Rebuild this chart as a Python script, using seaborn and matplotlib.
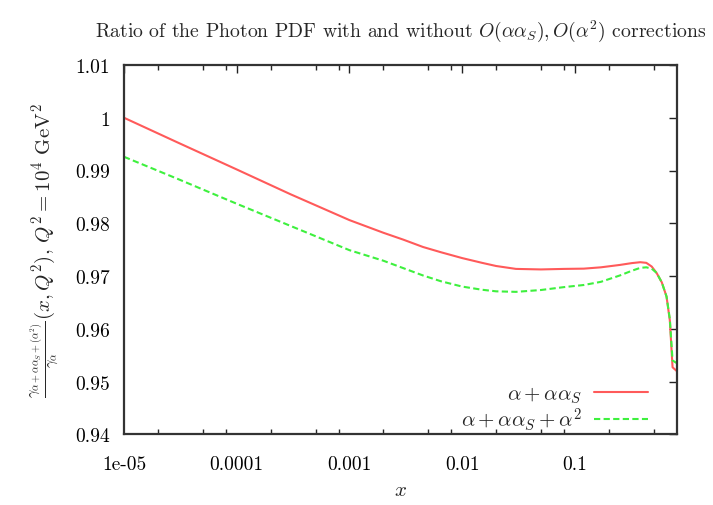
import numpy as np
import pandas as pd
import matplotlib
matplotlib.use("Agg")
import matplotlib.pyplot as plt
import seaborn as sns

# Momentum fraction x and photon PDF ratios at Q^2 = 10^4 GeV^2
x_vals = [1e-5, 3e-5, 1e-4, 3e-4, 1e-3, 2e-3, 3e-3, 4.5e-3, 6.5e-3, 1e-2,
          1.5e-2, 2e-2, 3e-2, 5e-2, 8e-2, 0.12, 0.17, 0.25, 0.32, 0.38,
          0.43, 0.48, 0.53, 0.59, 0.65, 0.695, 0.735, 0.8]
ratio_as = [1.0000, 0.9953, 0.9902, 0.9855, 0.9806, 0.9782, 0.9769, 0.9755,
            0.9745, 0.9734, 0.9725, 0.9719, 0.97135, 0.97125, 0.97135, 0.9714,
            0.97165, 0.9721, 0.97245, 0.97262, 0.9725, 0.9718, 0.9706, 0.9688,
            0.9661, 0.9616, 0.9527, 0.9520]
ratio_as_a2 = [0.9926, 0.9884, 0.9837, 0.9795, 0.9749, 0.9729, 0.9715, 0.9701,
               0.9690, 0.9680, 0.9674, 0.9671, 0.9670, 0.96735, 0.9679, 0.9683,
               0.9689, 0.9701, 0.9710, 0.97155, 0.97165, 0.9714, 0.9706, 0.9688,
               0.9661, 0.9619, 0.9540, 0.9535]

series_labels = [r"$\alpha+\alpha\alpha_S$", r"$\alpha+\alpha\alpha_S+\alpha^2$"]
x_ticks = [1e-5, 1e-4, 1e-3, 1e-2, 1e-1]
x_ticklabels = ["1e-05", "0.0001", "0.001", "0.01", "0.1"]
x_minor = [2e-5, 5e-5, 8e-5, 2e-4, 5e-4, 8e-4, 2e-3, 5e-3, 8e-3,
           2e-2, 5e-2, 8e-2, 0.2, 0.5]
y_ticks = [0.94, 0.95, 0.96, 0.97, 0.98, 0.99, 1.00, 1.01]
y_ticklabels = ["0.94", "0.95", "0.96", "0.97", "0.98", "0.99", "1", "1.01"]

df = pd.DataFrame({
    "x": x_vals * 2,
    "ratio": ratio_as + ratio_as_a2,
    "order": [series_labels[0]] * len(x_vals) + [series_labels[1]] * len(x_vals),
})

sns.set_style("white")
plt.rcParams["font.family"] = ["cmr10", "DejaVu Serif"]
plt.rcParams["mathtext.fontset"] = "cm"
plt.rcParams["axes.unicode_minus"] = False

fig = plt.figure(figsize=(7.13, 5.06), dpi=100)
ax = fig.add_axes([0.1739, 0.1397, 0.9491 - 0.1739, 0.8696 - 0.1397])

palette = {series_labels[0]: "#ff5a5a", series_labels[1]: "#3ef03e"}
sns.lineplot(data=df, x="x", y="ratio", hue="order", style="order",
             palette=palette, dashes={series_labels[0]: "", series_labels[1]: (3, 1.6)},
             linewidth=1.5, ax=ax, legend=True)

ax.set_xscale("log")
ax.set_xlim(1e-5, 0.8)
ax.set_ylim(0.94, 1.01)
ax.set_xticks(x_ticks)
ax.set_xticklabels(x_ticklabels)
ax.set_xticks(x_minor, minor=True)
ax.set_xticklabels([], minor=True)
ax.set_yticks(y_ticks)
ax.set_yticklabels(y_ticklabels)

ax.tick_params(axis="both", which="major", direction="in", length=6, width=1.0,
               top=True, right=True, labelsize=14, colors="#222222",
               labelcolor="black")
ax.tick_params(axis="y", which="major", pad=10)
ax.tick_params(axis="x", which="major", pad=15)
ax.tick_params(axis="x", which="minor", direction="in", length=3.5, width=1.0,
               top=True, bottom=True)
for sp in ax.spines.values():
    sp.set_color("#333333")
    sp.set_linewidth(1.6)

ax.set_title(r"Ratio of the Photon PDF with and without $O(\alpha\alpha_S), O(\alpha^2)$ corrections",
             fontsize=14.2, pad=21)
ax.set_xlabel(r"$x$", fontsize=15, labelpad=6)
ax.set_ylabel(r"$\frac{\gamma_{\alpha+\alpha\alpha_S+(\alpha^2)}}{\gamma_\alpha}(x,Q^2)$, $Q^2=10^4$ GeV$^2$",
              fontsize=15, labelpad=10)

leg = ax.legend(loc="lower right", bbox_to_anchor=(0.975, -0.035), frameon=False,
                markerfirst=False, fontsize=15, handlelength=2.6,
                handletextpad=0.6, labelspacing=0.0, borderaxespad=0.3)
for h in leg.get_lines():
    h.set_linewidth(1.5)

fig.savefig("out.png", dpi=100, facecolor="white")
